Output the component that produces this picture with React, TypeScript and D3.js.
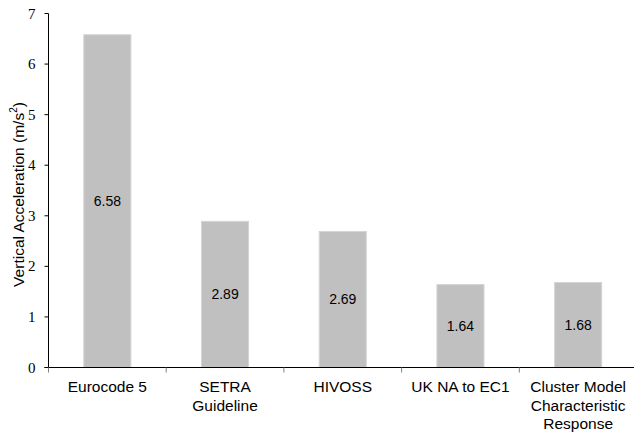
import React from "react";
import * as d3 from "d3";

const categories: string[][] = [
  ["Eurocode 5"],
  ["SETRA", "Guideline"],
  ["HIVOSS"],
  ["UK NA to EC1"],
  ["Cluster Model", "Characteristic", "Response"],
];
const values: number[] = [6.58, 2.89, 2.69, 1.64, 1.68];
const yTicks: number[] = [0, 1, 2, 3, 4, 5, 6, 7];

const W = 634;
const H = 432;
const x0 = 48.5;
const bandW = 117.7;
const yBase = 367.5;
const yTop = 13.5;

export default function App() {
  const keys = categories.map((_, i) => String(i));
  const x = d3
    .scaleBand<string>()
    .domain(keys)
    .range([x0, x0 + bandW * categories.length])
    .paddingInner(0.6)
    .paddingOuter(0.3);
  const y = d3.scaleLinear().domain([0, 7]).range([yBase, yTop]);
  const boundaries = d3.range(categories.length + 1).map((i) => x0 + i * bandW);

  return (
    <svg
      width={W}
      height={H}
      style={{ position: "absolute", left: 0, top: 0, background: "#fff" }}
    >
      {values.map((v, i) => (
        <g key={i}>
          <rect
            x={x(String(i))}
            y={y(v)}
            width={x.bandwidth()}
            height={yBase - y(v)}
            fill="#c0c0c0"
            stroke="#d4d4d4"
            strokeWidth={1}
          />
          <text
            x={(x(String(i)) as number) + x.bandwidth() / 2}
            y={(y(v) + yBase) / 2}
            textAnchor="middle"
            dominantBaseline="central"
            fontFamily="Liberation Sans, Arial, sans-serif"
            fontSize={14}
            fill="#000"
          >
            {v.toFixed(2)}
          </text>
        </g>
      ))}
      {/* y axis */}
      <line x1={x0} x2={x0} y1={yTop} y2={yBase} stroke="#000" strokeWidth={1} />
      {yTicks.map((t) => (
        <g key={t}>
          <line x1={x0 - 4} x2={x0} y1={y(t)} y2={y(t)} stroke="#000" strokeWidth={1} />
          <text
            x={x0 - 13}
            y={y(t)}
            textAnchor="end"
            dominantBaseline="central"
            fontFamily="Liberation Serif, Times New Roman, serif"
            fontSize={15}
            fill="#000"
          >
            {t}
          </text>
        </g>
      ))}
      {/* x axis */}
      <line x1={x0 - 4} x2={W} y1={yBase} y2={yBase} stroke="#000" strokeWidth={1} />
      {boundaries.map((b, i) => (
        <line key={i} x1={b} x2={b} y1={yBase} y2={yBase + 5} stroke="#808080" strokeWidth={1} />
      ))}
      {categories.map((lines, i) => (
        <text
          key={i}
          x={(x(String(i)) as number) + x.bandwidth() / 2}
          y={392}
          textAnchor="middle"
          fontFamily="Liberation Sans, Arial, sans-serif"
          fontSize={15.5}
          fill="#000"
        >
          {lines.map((l, j) => (
            <tspan key={j} x={(x(String(i)) as number) + x.bandwidth() / 2} dy={j === 0 ? 0 : 18.7}>
              {l}
            </tspan>
          ))}
        </text>
      ))}
      <text
        transform={`translate(18,${(yTop + yBase) / 2 + 4}) rotate(-90)`}
        textAnchor="middle"
        dominantBaseline="central"
        fontFamily="Liberation Sans, Arial, sans-serif"
        fontSize={15.5}
        fill="#000"
      >
        Vertical Acceleration (m/s
        <tspan dy={-5} fontSize={10}>2</tspan>
        <tspan dy={5}>)</tspan>
      </text>
    </svg>
  );
}
